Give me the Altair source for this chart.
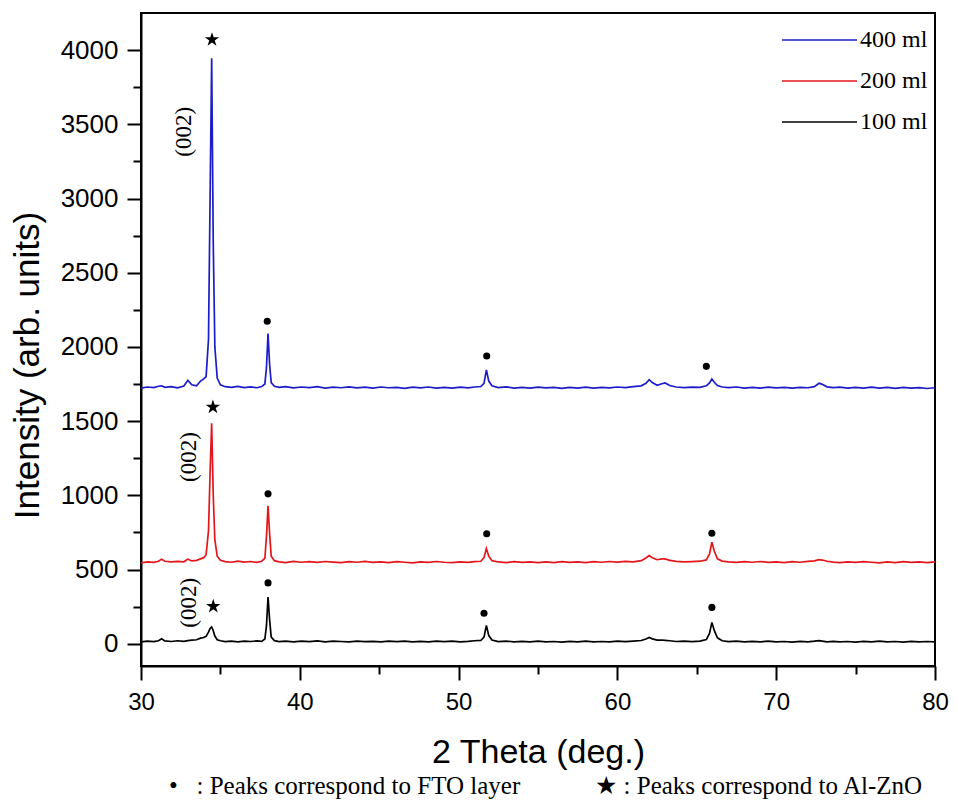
import altair as alt
import pandas as pd

# ---- data ----
ANGLE = [
    30.0, 30.4, 30.8, 31.1, 31.3, 31.5, 31.9, 32.3, 32.7, 32.95,
    33.2, 33.5, 33.75, 33.95, 34.1, 34.25, 34.35, 34.45, 34.55, 34.65,
    34.8, 35.0, 35.3, 35.7, 36.1, 36.5, 36.9, 37.3, 37.6, 37.8,
    37.9, 38.0, 38.1, 38.2, 38.4, 38.7, 39.1, 39.6, 40.1, 40.6,
    41.1, 41.6, 42.1, 42.6, 43.1, 43.6, 44.1, 44.6, 45.1, 45.6,
    46.1, 46.6, 47.1, 47.6, 48.1, 48.6, 49.1, 49.6, 50.1, 50.6,
    51.0, 51.4, 51.6, 51.75, 51.9, 52.1, 52.5, 53.0, 53.5, 54.0,
    54.5, 55.0, 55.5, 56.0, 56.5, 57.0, 57.5, 58.0, 58.5, 59.0,
    59.5, 60.0, 60.5, 61.0, 61.5, 61.8, 62.0, 62.2, 62.5, 62.8,
    63.0, 63.3, 63.7, 64.2, 64.7, 65.2, 65.6, 65.8, 65.95, 66.1,
    66.3, 66.6, 67.0, 67.5, 68.0, 68.5, 69.0, 69.5, 70.0, 70.5,
    71.0, 71.5, 72.0, 72.4, 72.7, 72.9, 73.2, 73.6, 74.0, 74.5,
    75.0, 75.5, 76.0, 76.5, 77.0, 77.5, 78.0, 78.5, 79.0, 79.5,
    80.0,
]

ML400 = [
    1722, 1730, 1726, 1735, 1738, 1728, 1732, 1724, 1736, 1775,
    1745, 1738, 1770, 1785, 1800, 2050, 3000, 3945, 2700, 2000,
    1790, 1745, 1732, 1728, 1734, 1726, 1731, 1725, 1733, 1750,
    1860, 2090, 1880, 1760, 1735, 1728, 1733, 1724, 1730, 1726,
    1732, 1723, 1729, 1725, 1731, 1724, 1729, 1722, 1730, 1725,
    1728, 1721, 1729, 1724, 1730, 1723, 1727, 1722, 1729, 1724,
    1730, 1733, 1755, 1845, 1770, 1738, 1726, 1731, 1723, 1728,
    1722, 1729, 1724, 1727, 1721, 1728, 1723, 1729, 1722, 1727,
    1724, 1730, 1726, 1732, 1738, 1755, 1779, 1760, 1742, 1752,
    1757, 1740, 1730, 1726, 1729, 1727, 1738, 1758, 1784, 1762,
    1740, 1730, 1726, 1730, 1723, 1728, 1722, 1729, 1724, 1727,
    1722, 1728, 1725, 1732, 1755, 1748, 1731, 1726, 1729, 1722,
    1728, 1723, 1729, 1722, 1727, 1721, 1728, 1723, 1726, 1720,
    1725,
]

ML200 = [
    545, 552, 548, 556, 570, 556, 551, 555, 552, 570,
    558, 562, 572, 580, 600, 760, 1150, 1486, 1000, 700,
    590, 562, 553, 549, 556, 550, 554, 548, 556, 575,
    720, 929, 740, 590, 560, 552, 547, 555, 549, 553,
    548, 554, 550, 546, 553, 549, 555, 548, 552, 547,
    553, 549, 545, 552, 548, 554, 549, 546, 552, 548,
    553, 556, 580, 641, 590, 560, 551, 547, 553, 548,
    552, 546, 551, 547, 553, 548, 552, 547, 553, 549,
    554, 550, 555, 552, 560, 578, 594, 580, 566, 572,
    572, 562, 555, 551, 553, 556, 565, 605, 684, 625,
    572, 557, 551, 548, 553, 549, 554, 548, 552, 547,
    553, 549, 555, 558, 567, 564, 556, 550, 546, 552,
    548, 553, 549, 545, 551, 547, 553, 548, 552, 546,
    551,
]

ML100 = [
    12, 18, 14, 20, 33, 19, 15, 20, 16, 21,
    24, 27, 38, 42, 50, 78, 103, 113, 88, 52,
    27, 20, 14, 18, 13, 17, 15, 19, 16, 32,
    120, 315, 160, 45, 21, 14, 18, 13, 17, 14,
    19, 13, 17, 15, 12, 18, 14, 16, 12, 17,
    14, 18, 13, 16, 12, 17, 14, 18, 13, 16,
    20, 22, 45, 124, 55, 25, 14, 18, 12, 16,
    13, 17, 12, 15, 11, 16, 13, 17, 12, 15,
    13, 17, 14, 18, 22, 32, 42, 33, 24, 25,
    23, 20, 15, 17, 14, 18, 28, 70, 144, 90,
    40, 20, 14, 17, 12, 16, 13, 17, 12, 15,
    11, 16, 13, 17, 21, 18, 13, 16, 12, 15,
    11, 16, 13, 17, 12, 15, 11, 16, 13, 15,
    12,
]

SAMPLES = ["400 ml", "200 ml", "100 ml"]
COLORS = ["#1c1cc8", "#e3161c", "#000000"]

# FTO peak markers (dots)
DOT_ANGLE = [37.95, 51.77, 65.6, 38.0, 51.77, 65.95, 38.0, 51.6, 65.95]
DOT_INT = [2173, 1939, 1869, 1010, 741, 745, 410, 205, 245]

# Al-ZnO peak markers (stars)
STAR_ANGLE = [34.47, 34.53, 34.55]
STAR_INT = [4070, 1594, 252]

# (002) annotations
HKL_ANGLE = [32.72, 33.0, 33.04]
HKL_INT = [3449, 1258, 276]
HKL_TEXT = ["(002)", "(002)", "(002)"]

X_MAJOR = [30, 40, 50, 60, 70, 80]
X_MINOR = [35, 45, 55, 65, 75]
Y_MAJOR = [0, 500, 1000, 1500, 2000, 2500, 3000, 3500, 4000]
Y_MINOR = [250, 750, 1250, 1750, 2250, 2750, 3250, 3750]

X_DOMAIN = [30, 80]
Y_DOMAIN = [-150, 4250]

# ---- tables ----
frames = []
for name, vals in zip(SAMPLES, [ML400, ML200, ML100]):
    frames.append(pd.DataFrame({"angle": ANGLE, "intensity": vals, "sample": name}))
df_lines = pd.concat(frames, ignore_index=True)
df_dots = pd.DataFrame({"angle": DOT_ANGLE, "intensity": DOT_INT})
df_stars = pd.DataFrame({"angle": STAR_ANGLE, "intensity": STAR_INT})
df_hkl = pd.DataFrame({"angle": HKL_ANGLE, "intensity": HKL_INT, "label": HKL_TEXT})

SANS = "Liberation Sans"
SERIF = "Liberation Serif"

xscale = alt.Scale(domain=X_DOMAIN, nice=False, zero=False)
yscale = alt.Scale(domain=Y_DOMAIN, nice=False, zero=False)

x_major = alt.Axis(
    values=X_MAJOR, format="d", tickSize=14, labelFontSize=24, labelFont=SANS,
    labelPadding=10, labelFlush=False, labelOverlap=False, grid=False,
    titleFont=SANS, titleFontSize=34, titleFontWeight="normal",
    titleBaseline="alphabetic", titleY=96,
)
y_major = alt.Axis(
    values=Y_MAJOR, format="d", tickSize=14, labelFontSize=26, labelFont=SANS,
    labelPadding=9, labelFlush=False, labelOverlap=False, grid=False,
    titleFont=SANS, titleFontSize=35, titleFontWeight="normal",
    titleX=-114, titleY=352, titleBaseline="middle", titleAlign="center",
)

X_ENC = alt.X("angle:Q", scale=xscale, axis=x_major, title="2 Theta (deg.)")
Y_ENC = alt.Y("intensity:Q", scale=yscale, axis=y_major, title="Intensity (arb. units)")

lines = alt.Chart(df_lines).mark_line(strokeWidth=1.7).encode(
    x=X_ENC,
    y=Y_ENC,
    color=alt.Color(
        "sample:N",
        scale=alt.Scale(domain=SAMPLES, range=COLORS),
        sort=SAMPLES,
        legend=alt.Legend(
            title=None, orient="none", legendX=640, legendY=15, padding=0,
            symbolType="stroke", symbolSize=5625, symbolStrokeWidth=1.5,
            labelFont=SERIF, labelFontSize=24, labelColor="black", labelOffset=2,
            clipHeight=24, rowPadding=17,
        ),
    ),
)

dots = alt.Chart(df_dots).mark_point(
    shape="circle", filled=True, size=50, color="black", opacity=1
).encode(x=X_ENC, y=Y_ENC)

STAR_PATH = ("M0,-1L0.2245,-0.309L0.951,-0.309L0.363,0.118L0.588,0.809L0,0.382"
             "L-0.588,0.809L-0.363,0.118L-0.951,-0.309L-0.2245,-0.309Z")
stars = alt.Chart(df_stars).mark_point(
    shape=STAR_PATH, filled=True, size=230, color="black", opacity=1
).encode(x=X_ENC, y=Y_ENC)

hkl = alt.Chart(df_hkl).mark_text(
    angle=270, font=SERIF, fontSize=23, align="center", baseline="middle", color="black"
).encode(x=X_ENC, y=Y_ENC, text="label:N")

main = alt.layer(lines, dots, stars, hkl)

minor = alt.Chart(df_lines).mark_line(opacity=0).encode(
    x=alt.X("angle:Q", scale=xscale, title=None,
            axis=alt.Axis(values=X_MINOR, orient="bottom", labels=False, domain=False,
                          tickSize=8, grid=False)),
    y=alt.Y("intensity:Q", scale=yscale, title=None,
            axis=alt.Axis(values=Y_MINOR, orient="left", labels=False, domain=False,
                          tickSize=8, grid=False)),
    detail="sample:N",
)

NB = "\u00a0"
foot = ("\u2022" + NB * 3 + ": Peaks correspond to FTO layer" + NB * 12 +
        "\u2605" + NB + ": Peaks correspond to Al-ZnO")

chart = alt.layer(main, minor).resolve_scale(x="independent", y="independent").properties(
    width=794,
    height=653,
    background="white",
    autosize=alt.AutoSizeParams(type="none"),
    padding={"left": 133, "top": 5, "right": 14, "bottom": 136},
    title=alt.TitleParams(
        text=foot, orient="bottom", anchor="start", frame="group", dx=28, offset=5,
        font=SERIF + ", DejaVu Serif", fontSize=25, fontWeight="normal", color="black",
    ),
).configure_view(
    stroke="black", strokeWidth=2
).configure_axis(
    grid=False, domainColor="black", domainWidth=2, tickColor="black", tickWidth=2,
    labelColor="black", titleColor="black",
)

chart.save("out.html", embed_options={"renderer": "svg", "actions": False})
